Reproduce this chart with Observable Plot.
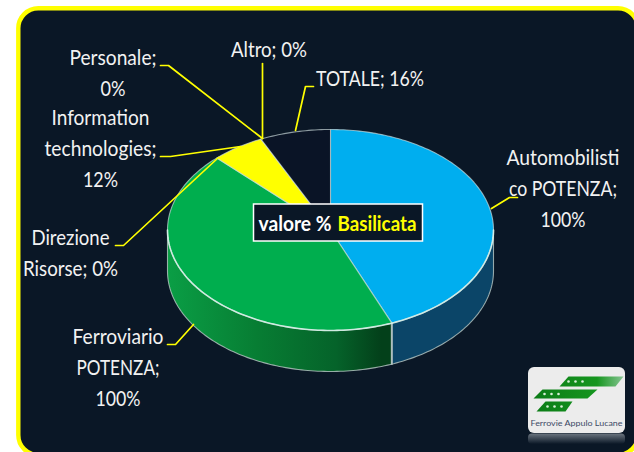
<!DOCTYPE html>
<html><head><meta charset="utf-8">
<style>html,body{margin:0;padding:0;background:#fff;overflow:hidden}svg{display:block}</style>
<script src="https://cdn.jsdelivr.net/npm/d3@7"></script>
<script src="https://cdn.jsdelivr.net/npm/@observablehq/plot@0.6"></script>
</head><body><div id="chart"></div>
<script>
const categories = ["Automobilistico POTENZA","Ferroviario POTENZA","Direzione Risorse","Information technologies","Personale","Altro","TOTALE"];
const values = [100,100,0,12,0,0,16];
const labelLines = [["Automobilisti","co POTENZA;","100%"],["Ferroviario","POTENZA;","100%"],["Direzione","Risorse; 0%"],["Information","technologies;","12%"],["Personale;","0%"],["Altro; 0%"],["TOTALE; 16%"]];
const sliceColors = ["#00aeef","#00ae4e","#00ae4e","#ffff00","#ffff00","#ffff00","#0a1426"];

// layout
const W=634,H=452,cx=330,cy=229.5,rx=163,ry=100.5,depth=41;
const font="Lato";
const bg="#0a1726";
const ellipsePt=(a,dy=0)=>({x:cx+rx*Math.sin(a),y:cy-ry*Math.cos(a)+dy});
const arc=(a0,a1,dy=0)=>{const n=Math.max(2,Math.ceil(Math.abs(a1-a0)/0.02));return d3.range(n+1).map(i=>ellipsePt(a0+(a1-a0)*i/n,dy));};
const pie=d3.pie().sort(null).value(d=>d)(values);
const slices=pie.map((p,i)=>({i,a0:p.startAngle,a1:p.endAngle}));
const topPolys=slices.filter(s=>s.a1>s.a0).flatMap(s=>[{x:cx,y:cy},...arc(s.a0,s.a1),{x:cx,y:cy}].map(p=>({...p,k:s.i,fill:sliceColors[s.i]})));
const sidePoly=(a0,a1,k)=>[...arc(a0,a1),...arc(a1,a0,depth)].map(p=>({...p,k}));
const s0=slices[0],s1=slices[1];
const sideBlue=sidePoly(Math.PI/2,s0.a1,"sb");
const sideGreen=sidePoly(s1.a0,Math.PI*1.5,"sg");
const outline=[ellipsePt(Math.PI/2),...arc(Math.PI/2,Math.PI*1.5,depth),ellipsePt(Math.PI*1.5)];

// leader lines, from the pie to the label
const leaderPaths=[[[491,208],[509,197],[517,197]],[[193,324],[175,344],[167,344]],[[218,157],[123,245],[115,245]],[[240,146],[170,156],[160,156]],[[262,138],[168,65],[160,65]],[[262,138],[262,63]],[[295,130],[305,86],[313,86]]];
const leaders=leaderPaths.flatMap((p,k)=>p.map(([x,y])=>({x,y,k})));

// label placement: centre x, first baseline
const labelPos=[[562.5,165],[117.5,344],[70,245],[100,125],[112.5,65],[268.5,57],[369.5,86]];
const lineGap=[31,31,31,31,31,0,0];
const labelText=labelLines.flatMap((ls,i)=>ls.map((t,j)=>({t,x:labelPos[i][0],y:labelPos[i][1]-7+j*lineGap[i]})));
const textWidths=new Map([["Automobilisti",113],["co POTENZA;",108],["100%",45],["Ferroviario",91],["POTENZA;",83],["Direzione",78],["Risorse; 0%",95],["Information",98],["technologies;",112],["12%",35],["Personale;",87],["0%",25],["Altro; 0%",76],["TOTALE; 16%",108],["valore %",73],["Basilicata",79],["Ferrovie Appulo Lucane",92]]);

const defs=()=>{const s=d3.create("svg:g");const d=s.append("defs");
 const grad=(id,x1,x2,y1,y2,stops)=>{const g=d.append("linearGradient").attr("id",id).attr("gradientUnits","userSpaceOnUse").attr("x1",x1).attr("x2",x2).attr("y1",y1).attr("y2",y2);
  stops.forEach(([o,c,a])=>g.append("stop").attr("offset",o).attr("stop-color",c).attr("stop-opacity",a==null?1:a));};
 grad("greenSide",167,392,0,0,[[0,"#0a9e45"],[.4,"#077d33"],[.75,"#05632a"],[.95,"#03401a"],[1,"#03401a"]]);
 grad("logoBar",530,625,0,0,[[0,"#0b7a16"],[.7,"#16961f"],[1,"#8fc89a"]]);
 grad("logoRef",0,0,433,444,[[0,"#8a939c",.8],[1,"#8a939c",0]]);
 return s.node();};

const logoBars=[[[559,386],[568,376],[623,376],[615,386]],[[533,398],[542,389],[597,389],[587,398]],[[536,411],[545,401],[572,401],[565,411]]]
 .flatMap((b,k)=>b.map(([x,y])=>({x,y,k})));
const logoDots=[[568,381],[575,381],[582,381],[544,393.5],[551,393.5],[558,393.5],[547,406],[554,406],[561,406]].map(([x,y])=>({x,y}));

const rectOne=(x1,y1,x2,y2,o)=>Plot.rect([0],{x1:()=>x1,x2:()=>x2,y1:()=>y1,y2:()=>y2,...o});

const plot=Plot.plot({width:W,height:H,margin:0,style:{background:"#fff",fontFamily:font},
 x:{domain:[0,W],range:[0,W],axis:null},y:{domain:[0,H],range:[0,H],axis:null},
 marks:[
  defs,
  rectOne(18.3,8.3,638,455,{fill:bg,stroke:"#ffff00",strokeWidth:4.4,rx:20}),
  Plot.line(sideBlue,{x:"x",y:"y",z:"k",fill:"#0b4568"}),
  Plot.line(sideGreen,{x:"x",y:"y",z:"k",fill:"url(#greenSide)"}),
  Plot.line(outline,{x:"x",y:"y",stroke:"#b9c9c6",strokeWidth:1.1,strokeOpacity:.8}),
  Plot.line([ellipsePt(s0.a1),ellipsePt(s0.a1,depth)],{x:"x",y:"y",stroke:"#aebfbf",strokeWidth:2}),
  Plot.line(topPolys,{x:"x",y:"y",z:"k",fill:"fill",stroke:"#d4e4e4",strokeWidth:1.1,strokeOpacity:.65}),
  Plot.line(arc(Math.PI/2,Math.PI*1.5),{x:"x",y:"y",stroke:"#d8f0e8",strokeWidth:1.6,strokeOpacity:.9}),
  Plot.line(leaders,{x:"x",y:"y",z:"k",stroke:"#ffff00",strokeWidth:1.7}),
  rectOne(253.5,204,422.5,241,{fill:bg,stroke:"#fff",strokeWidth:1.5}),
  Plot.text(["valore %"],{x:()=>294.5,y:()=>224,text:d=>d,fill:"#fff",fontWeight:"bold",fontSize:21}),
  Plot.text(["Basilicata"],{x:()=>376.5,y:()=>224,text:d=>d,fill:"#ffff00",fontWeight:"bold",fontSize:21}),
  Plot.text(labelText,{x:"x",y:"y",text:"t",fill:"#f2f2f2",fontSize:21}),
  rectOne(528,367,625,433,{fill:"#ececec",rx:6}),
  Plot.line(logoBars,{x:"x",y:"y",z:"k",fill:"url(#logoBar)"}),
  Plot.dot(logoDots,{x:"x",y:"y",r:1.3,fill:"#d8efd8"}),
  Plot.text(["Ferrovie Appulo Lucane"],{x:()=>576,y:()=>423,text:d=>d,fill:"#3c4a66",fontSize:8}),
  rectOne(528,433.5,625,444,{fill:"url(#logoRef)",rx:4})
 ]});
document.getElementById("chart").append(plot);
plot.querySelectorAll("text").forEach(el=>{const w=textWidths.get(el.textContent);if(w){el.setAttribute("textLength",w);el.setAttribute("lengthAdjust","spacingAndGlyphs");}});
</script></body></html>
